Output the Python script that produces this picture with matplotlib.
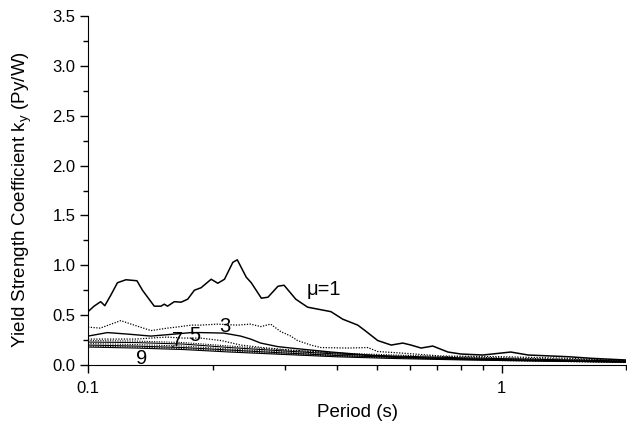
import matplotlib
matplotlib.use("Agg")
import matplotlib.pyplot as plt
from matplotlib.ticker import FixedLocator, NullFormatter

plt.rcParams["font.family"] = ["Liberation Sans", "DejaVu Sans"]

# mu = 1 (solid, top curve)
t_mu1 = [0.1, 0.1034, 0.1073, 0.1098, 0.1135, 0.1178, 0.1235, 0.1313, 0.1354, 0.1446,
         0.1501, 0.1529, 0.1557, 0.1617, 0.1679, 0.1742, 0.1808, 0.1877, 0.1985, 0.2060,
         0.2138, 0.2240, 0.2296, 0.2414, 0.2482, 0.2625, 0.2724, 0.2880, 0.2979, 0.318,
         0.3396, 0.3868, 0.4128, 0.449, 0.466, 0.502, 0.541, 0.577, 0.604, 0.639,
         0.682, 0.742, 0.798, 0.901, 1.053, 1.16, 1.45, 1.65, 2.0]
k_mu1 = [0.535, 0.59, 0.635, 0.595, 0.70, 0.825, 0.855, 0.845, 0.75, 0.59,
         0.59, 0.61, 0.59, 0.635, 0.63, 0.66, 0.75, 0.775, 0.86, 0.82,
         0.86, 1.03, 1.055, 0.88, 0.825, 0.67, 0.68, 0.79, 0.80, 0.66,
         0.58, 0.535, 0.46, 0.40, 0.35, 0.245, 0.20, 0.22, 0.20, 0.17,
         0.19, 0.13, 0.11, 0.10, 0.13, 0.10, 0.083, 0.067, 0.05]

# mu = 3 (dotted)
t_mu3 = [0.1, 0.107, 0.120, 0.1293, 0.142, 0.1557, 0.1672, 0.1776, 0.187, 0.2053,
         0.2296, 0.2473, 0.2615, 0.2765, 0.2924, 0.3093, 0.3211, 0.3459, 0.3657, 0.4246,
         0.4749, 0.502, 0.572, 0.715, 1.0, 1.45, 2.0]
k_mu3 = [0.38, 0.37, 0.445, 0.40, 0.345, 0.37, 0.385, 0.40, 0.40, 0.41,
         0.40, 0.41, 0.385, 0.41, 0.335, 0.29, 0.245, 0.20, 0.175, 0.17,
         0.175, 0.135, 0.12, 0.09, 0.083, 0.067, 0.043]

# mu = 5 (solid)
t_mu5 = [0.1, 0.1114, 0.1246, 0.142, 0.1617, 0.1776, 0.187, 0.213, 0.2339, 0.2473,
         0.2615, 0.2871, 0.3093, 0.3868, 0.505, 0.6, 1.0, 2.0]
k_mu5 = [0.29, 0.325, 0.31, 0.29, 0.31, 0.325, 0.325, 0.32, 0.29, 0.26,
         0.22, 0.185, 0.17, 0.13, 0.09, 0.075, 0.05, 0.03]

# mu = 7 (dotted)
t_mu7 = [0.1, 0.13, 0.155, 0.17, 0.187, 0.21, 0.234, 0.264, 0.309, 0.4, 0.5, 0.7, 1.0, 2.0]
k_mu7 = [0.26, 0.26, 0.28, 0.27, 0.27, 0.245, 0.20, 0.175, 0.15, 0.12, 0.09, 0.065, 0.045, 0.025]

# remaining ductility curves, bunched near the bottom
t_low = [0.1, 0.13, 0.17, 0.22, 0.3, 0.4, 0.55, 0.8, 1.2, 2.0]
k_low_a = [0.245, 0.24, 0.225, 0.19, 0.15, 0.12, 0.10, 0.08, 0.065, 0.045]
k_low_b = [0.23, 0.225, 0.21, 0.175, 0.14, 0.11, 0.09, 0.072, 0.058, 0.04]
k_low_c = [0.215, 0.205, 0.19, 0.16, 0.13, 0.10, 0.082, 0.066, 0.052, 0.036]
k_low_d = [0.20, 0.19, 0.175, 0.15, 0.12, 0.095, 0.077, 0.06, 0.048, 0.033]
k_low_e = [0.19, 0.18, 0.165, 0.14, 0.11, 0.088, 0.07, 0.055, 0.044, 0.03]
k_low_f = [0.18, 0.17, 0.155, 0.13, 0.105, 0.082, 0.065, 0.051, 0.04, 0.028]

x_major = [0.1, 1]
x_minor = [0.2, 0.3, 0.4, 0.5, 0.6, 0.7, 0.8, 0.9, 2]
y_major = [0.0, 0.5, 1.0, 1.5, 2.0, 2.5, 3.0, 3.5]


def main():
    fig = plt.figure(figsize=(6.27, 4.34), dpi=100)
    ax = fig.add_axes([0.1404, 0.159, 0.858, 0.804])

    ax.plot(t_mu1, k_mu1, color="black", lw=1.1)
    ax.plot(t_mu3, k_mu3, color="black", lw=0.9, ls=(0, (1, 1.2)))
    ax.plot(t_mu5, k_mu5, color="black", lw=1.0)
    ax.plot(t_mu7, k_mu7, color="black", lw=0.9, ls=(0, (1, 1.2)))
    for i, k in enumerate([k_low_a, k_low_b, k_low_c, k_low_d, k_low_e, k_low_f]):
        ls = "-" if i % 2 else (0, (1, 1.2))
        ax.plot(t_low, k, color="black", lw=0.8, ls=ls)

    lbl = dict(fontsize=14.5, ha="center", va="center")
    ax.text(0.372, 0.76, "\u03bc=1", **lbl)
    ax.text(0.214, 0.385, "3", **lbl)
    ax.text(0.181, 0.30, "5", **lbl)
    ax.annotate("7", xy=(0.160, 0.18), xytext=(0.165, 0.245),
                arrowprops=dict(arrowstyle="-", color="black", lw=0.8, shrinkA=5, shrinkB=0), **lbl)
    ax.text(0.135, 0.065, "9", **lbl)

    ax.set_xscale("log")
    ax.set_xlim(0.1, 2.0)
    ax.set_ylim(0, 3.5)
    ax.xaxis.set_major_locator(FixedLocator(x_major))
    ax.xaxis.set_minor_locator(FixedLocator(x_minor))
    ax.set_xticklabels(["0.1", "1"])
    ax.xaxis.set_minor_formatter(NullFormatter())
    ax.set_yticks(y_major)
    ax.set_yticklabels([f"{v:.1f}" for v in y_major])
    ax.set_yticks([v + 0.25 for v in y_major[:-1]], minor=True)

    for side in ["top", "right"]:
        ax.spines[side].set_visible(False)
    ax.tick_params(which="major", direction="out", length=5.5, width=1, labelsize=12)
    ax.tick_params(axis="x", which="major", pad=6)
    ax.tick_params(axis="y", which="major", pad=3.5)
    ax.tick_params(which="minor", direction="out", length=3.5, width=1)

    ax.set_xlabel("Period (s)", fontsize=13.5, va="center")
    ax.xaxis.set_label_coords(0.5, -0.137)
    ax.set_ylabel("Yield Strength Coefficient k$_\\mathregular{y}$ (Py/W)", fontsize=13.5, va="center")
    ax.yaxis.set_label_coords(-0.123, 0.473)

    fig.savefig("out.png", dpi=100)


if __name__ == "__main__":
    main()
